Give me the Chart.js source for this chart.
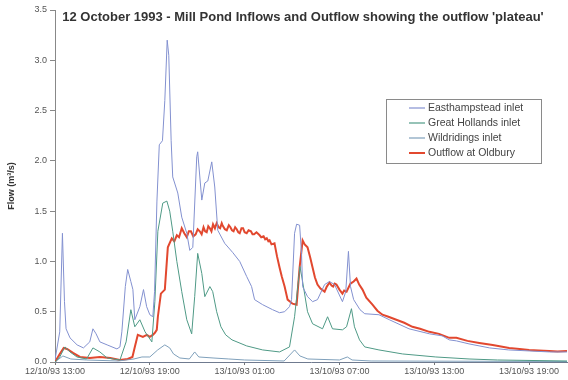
<!DOCTYPE html>
<html>
<head>
<meta charset="utf-8">
<script src="https://cdn.jsdelivr.net/npm/chart.js@4.4.1/dist/chart.umd.min.js"></script>
<style>
  html, body { margin: 0; padding: 0; background: #fff; }
  #wrap { width: 568px; height: 380px; }
</style>
</head>
<body>
<div id="wrap"><canvas id="graficoFlujo"></canvas></div>
<script>
// hours after 12/10/93 13:00, flow in m3/s
const tickLabels = ['12/10/93 13:00', '12/10/93 19:00', '13/10/93 01:00', '13/10/93 07:00', '13/10/93 13:00', '13/10/93 19:00'];
const seriesNames = ['Easthampstead inlet', 'Great Hollands inlet', 'Wildridings inlet', 'Outflow at Oldbury'];

const hoursE = [0, 0.3, 0.47, 0.6, 0.7, 0.95, 1.4, 1.8, 2.2, 2.4, 2.6, 2.84, 3.3, 3.92, 4.11, 4.23, 4.45, 4.6, 4.8, 4.93, 5.05, 5.37, 5.6, 5.8, 6.0, 6.19, 6.3, 6.45, 6.6, 6.8, 6.95, 7.1, 7.2, 7.35, 7.45, 7.77, 8.02, 8.34, 8.53, 8.72, 8.97, 9.03, 9.29, 9.48, 9.67, 9.92, 10.11, 10.3, 10.74, 11.24, 11.69, 12.13, 12.44, 12.63, 13.14, 13.77, 14.21, 14.53, 14.84, 14.97, 15.16, 15.29, 15.48, 15.6, 15.67, 15.98, 16.3, 16.61, 17.06, 17.37, 17.69, 18.19, 18.4, 18.57, 18.7, 18.9, 19.3, 19.6, 20.5, 21.16, 22.4, 23.7, 24.5, 24.95, 25.4, 26.2, 27.5, 28.7, 30.0, 31.3, 32.4];
const flowE = [0.02, 0.3, 1.28, 0.6, 0.33, 0.24, 0.17, 0.14, 0.2, 0.33, 0.28, 0.2, 0.17, 0.13, 0.15, 0.3, 0.75, 0.92, 0.8, 0.72, 0.42, 0.55, 0.72, 0.55, 0.47, 0.45, 0.7, 1.6, 2.16, 2.2, 2.6, 3.2, 3.05, 2.2, 1.84, 1.68, 1.44, 1.28, 1.11, 1.14, 2.04, 2.09, 1.61, 1.78, 1.8, 1.99, 1.74, 1.31, 1.18, 1.09, 1.0, 0.85, 0.75, 0.62, 0.57, 0.52, 0.49, 0.5, 0.55, 0.62, 1.28, 1.37, 1.36, 1.08, 0.75, 0.65, 0.6, 0.62, 0.77, 0.8, 0.77, 0.6, 0.7, 1.1, 0.75, 0.62, 0.52, 0.48, 0.47, 0.42, 0.33, 0.28, 0.26, 0.22, 0.21, 0.18, 0.14, 0.12, 0.11, 0.1, 0.1];

const hoursG = [0, 0.3, 0.63, 0.95, 1.39, 2.0, 2.4, 2.84, 3.3, 4.11, 4.5, 4.8, 5.05, 5.37, 5.7, 6.13, 6.32, 6.51, 6.82, 7.08, 7.26, 7.45, 7.71, 8.02, 8.34, 8.65, 8.84, 9.03, 9.29, 9.48, 9.8, 9.98, 10.23, 10.5, 10.8, 11.2, 12.13, 13.14, 14.21, 14.84, 15.16, 15.5, 15.67, 15.98, 16.3, 16.93, 17.25, 17.56, 18.19, 18.45, 18.76, 18.95, 19.27, 19.6, 20.5, 22.0, 24.1, 26.2, 28.0, 32.4];
const flowG = [0, 0.05, 0.15, 0.1, 0.05, 0.03, 0.14, 0.1, 0.04, 0.02, 0.2, 0.52, 0.35, 0.42, 0.3, 0.2, 0.6, 1.3, 1.58, 1.6, 1.5, 1.3, 1.0, 0.7, 0.42, 0.28, 0.65, 1.08, 0.88, 0.65, 0.75, 0.7, 0.5, 0.35, 0.27, 0.22, 0.16, 0.12, 0.1, 0.15, 0.45, 0.95, 0.8, 0.5, 0.38, 0.33, 0.45, 0.33, 0.32, 0.35, 0.53, 0.35, 0.22, 0.15, 0.12, 0.08, 0.05, 0.03, 0.02, 0.01];

const hoursW = [0, 0.5, 1.0, 2.0, 4.0, 5.0, 5.5, 6.0, 6.5, 6.95, 7.26, 7.5, 7.9, 8.5, 8.84, 9.1, 10.0, 11.0, 12.0, 14.5, 15.16, 15.5, 16.0, 18.0, 18.5, 18.8, 20.0, 32.4];
const flowW = [0, 0.06, 0.03, 0.02, 0.01, 0.03, 0.05, 0.05, 0.12, 0.17, 0.14, 0.08, 0.04, 0.03, 0.1, 0.05, 0.04, 0.03, 0.02, 0.01, 0.12, 0.06, 0.03, 0.02, 0.05, 0.02, 0.01, 0.005];

const hoursR = [0, 0.3, 0.55, 0.76, 1.14, 1.58, 2.2, 2.84, 3.5, 4.1, 4.6, 4.9, 5.05, 5.24, 5.56, 5.81, 6.0, 6.19, 6.32, 6.44, 6.51, 6.7, 6.95, 7.14, 7.39, 7.55, 7.71, 7.85, 8.02, 8.18, 8.34, 8.47, 8.6, 8.75, 8.9, 9.03, 9.16, 9.28, 9.4, 9.5, 9.6, 9.7, 9.8, 9.9, 10.0, 10.12, 10.23, 10.35, 10.45, 10.55, 10.6, 10.75, 10.87, 11.0, 11.1, 11.2, 11.3, 11.4, 11.5, 11.6, 11.69, 11.8, 11.9, 12.0, 12.13, 12.25, 12.4, 12.5, 12.6, 12.75, 12.95, 13.05, 13.2, 13.3, 13.4, 13.5, 13.58, 13.7, 13.89, 14.05, 14.21, 14.35, 14.53, 14.72, 15.03, 15.29, 15.48, 15.67, 15.8, 15.98, 16.15, 16.3, 16.45, 16.61, 16.8, 17.06, 17.2, 17.37, 17.5, 17.6, 17.7, 17.81, 18.0, 18.19, 18.3, 18.45, 18.7, 18.9, 19.08, 19.25, 19.46, 19.7, 20.09, 20.4, 20.72, 21.1, 21.6, 22.1, 22.62, 23.1, 23.69, 24.3, 24.95, 25.4, 26.1, 26.85, 27.7, 28.74, 29.4, 30.0, 30.6, 31.27, 31.8, 32.4];
const flowR = [0, 0.08, 0.14, 0.13, 0.09, 0.05, 0.04, 0.05, 0.04, 0.02, 0.03, 0.05, 0.15, 0.27, 0.25, 0.27, 0.25, 0.27, 0.29, 0.32, 0.45, 0.68, 0.72, 1.14, 1.23, 1.2, 1.26, 1.24, 1.33, 1.28, 1.24, 1.3, 1.3, 1.25, 1.27, 1.32, 1.3, 1.27, 1.34, 1.3, 1.29, 1.35, 1.33, 1.3, 1.37, 1.33, 1.38, 1.34, 1.33, 1.38, 1.36, 1.32, 1.31, 1.36, 1.34, 1.31, 1.3, 1.34, 1.32, 1.29, 1.28, 1.33, 1.33, 1.29, 1.28, 1.31, 1.3, 1.27, 1.27, 1.29, 1.26, 1.24, 1.25, 1.22, 1.23, 1.2, 1.21, 1.17, 1.18, 1.05, 0.94, 0.85, 0.75, 0.62, 0.58, 0.57, 0.94, 1.21, 1.17, 1.14, 1.04, 0.94, 0.84, 0.77, 0.73, 0.7, 0.75, 0.79, 0.76, 0.75, 0.78, 0.77, 0.72, 0.68, 0.71, 0.7, 0.78, 0.8, 0.83, 0.77, 0.72, 0.64, 0.57, 0.51, 0.47, 0.45, 0.42, 0.39, 0.35, 0.33, 0.3, 0.28, 0.24, 0.24, 0.21, 0.19, 0.17, 0.14, 0.13, 0.12, 0.115, 0.11, 0.105, 0.11];

function puntos(horas, valores) {
    return horas.map((h, i) => ({ x: h, y: valores[i] }));
}

// titulo y leyenda dibujados dentro del area del grafico
const extras = {
    id: 'extras',
    afterDraw(chart) {
        const c = chart.ctx;
        c.save();
        c.fillStyle = '#333';
        c.font = 'bold 13px "Liberation Sans", Arial, sans-serif';
        c.textAlign = 'center';
        c.textBaseline = 'middle';
        c.fillText("12 October 1993 - Mill Pond Inflows and Outflow showing the outflow 'plateau'", 303, 17, 486);

        c.strokeStyle = '#8a8a8a';
        c.lineWidth = 1;
        c.strokeRect(386.5, 99.5, 155, 64);
        c.font = '10.5px "Liberation Sans", Arial, sans-serif';
        c.textAlign = 'left';
        chart.data.datasets.forEach((ds, i) => {
            const y = 108 + i * 15;
            c.strokeStyle = ds.borderColor;
            c.lineWidth = i === 3 ? 2 : 1.2;
            c.beginPath();
            c.moveTo(409, y);
            c.lineTo(425, y);
            c.stroke();
            c.fillStyle = '#444';
            c.fillText(ds.label, 428, y);
        });
        c.restore();
    }
};

const ctx = document.getElementById('graficoFlujo');

new Chart(ctx, {
    type: 'line',
    data: {
        datasets: [{
            label: seriesNames[0],
            data: puntos(hoursE, flowE),
            borderColor: '#8391d0',
            borderWidth: 1
        }, {
            label: seriesNames[1],
            data: puntos(hoursG, flowG),
            borderColor: '#4f9a86',
            borderWidth: 1
        }, {
            label: seriesNames[2],
            data: puntos(hoursW, flowW),
            borderColor: '#7fa0bb',
            borderWidth: 1
        }, {
            label: seriesNames[3],
            data: puntos(hoursR, flowR),
            borderColor: '#e2482f',
            borderWidth: 2
        }]
    },
    options: {
        responsive: true,
        maintainAspectRatio: false,
        animation: false,
        layout: { padding: { top: 10, right: 1, left: 0, bottom: 0 } },
        elements: { point: { radius: 0 }, line: { tension: 0 } },
        plugins: {
            legend: { display: false },
            tooltip: { enabled: false }
        },
        scales: {
            x: {
                type: 'linear',
                min: 0,
                max: 32.4,
                afterFit: (s) => { s.height = 18; },
                afterBuildTicks: (s) => { s.ticks = tickLabels.map((t, i) => ({ value: i * 6 })); },
                ticks: {
                    callback: (v) => tickLabels[Math.round(v / 6)],
                    maxRotation: 0,
                    autoSkip: false,
                    padding: 1,
                    color: '#555',
                    font: { family: '"Liberation Sans", Arial, sans-serif', size: 9 }
                },
                grid: { drawOnChartArea: false, tickLength: 3, color: '#777' },
                border: { color: '#6f7a8f' }
            },
            y: {
                min: 0,
                max: 3.5,
                afterFit: (s) => { s.width = 55; },
                ticks: {
                    stepSize: 0.5,
                    callback: (v) => v.toFixed(1),
                    padding: 3,
                    color: '#555',
                    font: { family: '"Liberation Sans", Arial, sans-serif', size: 9 }
                },
                grid: { drawOnChartArea: false, tickLength: 5, color: '#888' },
                border: { color: '#888' },
                title: {
                    display: true,
                    text: 'Flow (m³/s)',
                    color: '#333',
                    padding: { top: 6, bottom: 0 },
                    font: { family: '"Liberation Sans", Arial, sans-serif', size: 9, weight: 'bold' }
                }
            }
        }
    },
    plugins: [extras]
});
</script>
</body>
</html>
